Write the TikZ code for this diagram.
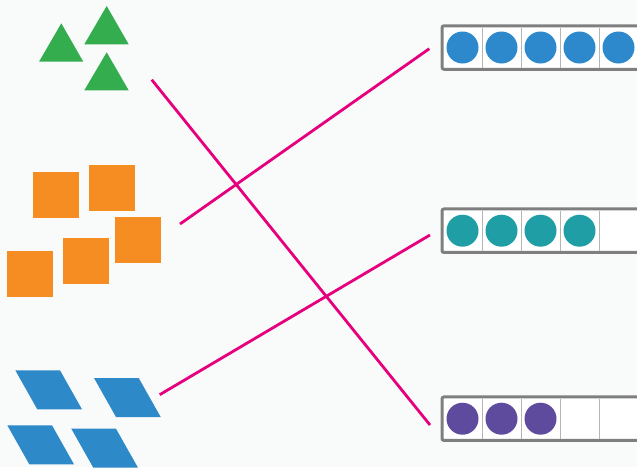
\documentclass[tikz,border=0pt]{standalone}
\usepackage{tikz}
\usetikzlibrary{calc}
\definecolor{leafgreen}{HTML}{34AD4F}
\definecolor{boxorange}{HTML}{F68D22}
\definecolor{tileblue}{HTML}{2E89C9}
\definecolor{dotblue}{HTML}{2E89CC}
\definecolor{dotteal}{HTML}{1F9FA5}
\definecolor{dotpurple}{HTML}{5F4B9E}
\definecolor{framegray}{HTML}{7F7F7F}
\definecolor{cellgray}{HTML}{B5B5B5}
\definecolor{linkpink}{HTML}{E6007E}
\definecolor{paper}{HTML}{F9FBFB}

\begin{document}
\begin{tikzpicture}[x=1pt, y=-1pt,
  tri/.style={fill=leafgreen},
  sq/.style={fill=boxorange},
  tile/.style={fill=tileblue},
  frame/.style={draw=framegray, fill=white, line width=3pt, rounded corners=2pt,
    minimum width=230pt, minimum height=43.5pt, outer sep=0pt, inner sep=0pt},
  divider/.style={draw=cellgray, line width=1pt},
  dot/.style={circle, minimum size=32pt, inner sep=0pt},
  link/.style={draw=linkpink, line width=2.8pt}
]
\useasboundingbox (0,0) rectangle (637,467);
\clip (0,0) rectangle (637,467);
\fill[paper] (0,0) rectangle (637,467);

% triangles
\fill[tri] (39,61.7) -- (61.3,23.3) -- (83.3,61.7) -- cycle;
\fill[tri] (84.3,44.3) -- (106.7,6) -- (128.7,44.3) -- cycle;
\fill[tri] (84.3,90.3) -- (106.7,52.3) -- (128.7,90.3) -- cycle;

% squares
\fill[sq] (33,171.7) rectangle ++(46,46);
\fill[sq] (89,165) rectangle ++(46,46);
\fill[sq] (115,217) rectangle ++(46,46);
\fill[sq] (63,238) rectangle ++(46,46);
\fill[sq] (7,251) rectangle ++(46,46);

% parallelograms
\foreach \x/\y in {15.3/370.3, 94/378, 7.3/425.3, 71.3/428.7}
  \fill[tile] (\x,\y) -- ++(44.7,0) -- ++(22,39) -- ++(-44.7,0) -- cycle;

% ten frames
\foreach \row/\y/\n/\col in {1/47.5/5/dotblue, 2/230.7/4/dotteal, 3/418.7/3/dotpurple} {
  \node[frame, anchor=west] (row\row) at (442,\y) {};
  \foreach \k in {1,...,4}
    \draw[divider] (443+39*\k,\y-20) -- (443+39*\k,\y+20);
  \foreach \k in {1,...,\n}
    \node[dot, fill=\col] (d\row\k) at (443+39*\k-19.5,\y) {};
}

% matching lines
\coordinate (tris) at (151.7,79.7);
\coordinate (squares) at (180,224);
\coordinate (tiles) at (159.7,394.7);
\coordinate (in1) at (429.3,48.7);
\coordinate (in2) at (430,235);
\coordinate (in3) at (430,425);
\draw[link] (tris) -- (in3);
\draw[link] (squares) -- (in1);
\draw[link] (tiles) -- (in2);
\end{tikzpicture}
\end{document}
